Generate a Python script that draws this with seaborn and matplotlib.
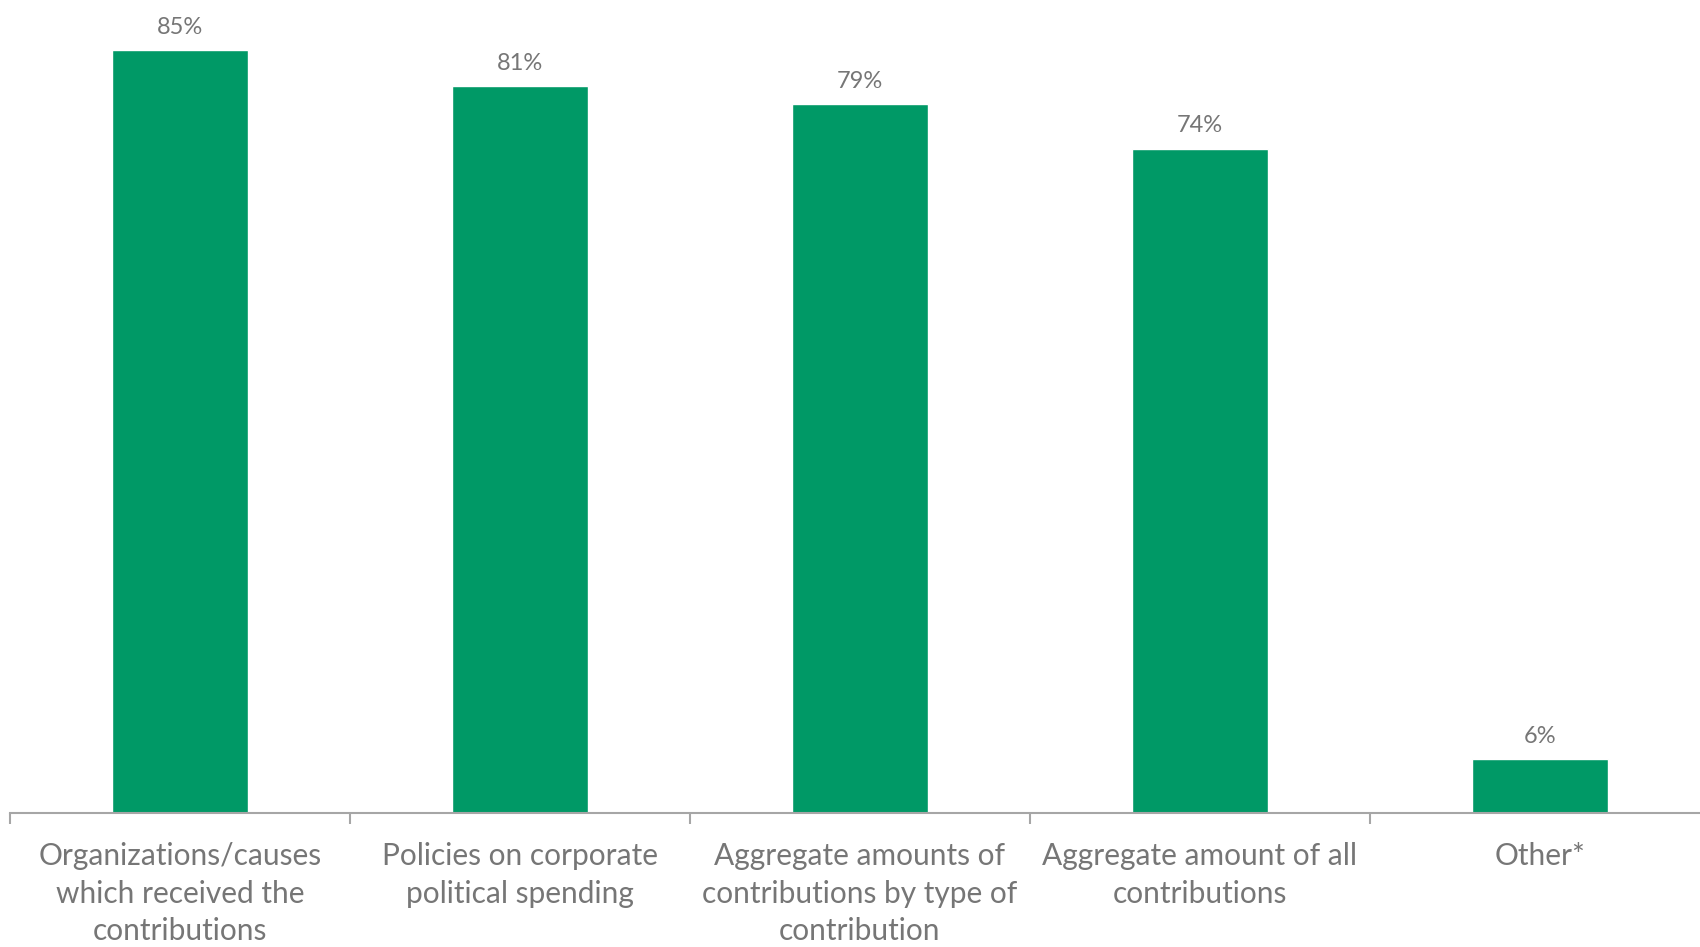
import matplotlib
matplotlib.use("Agg")
import matplotlib.pyplot as plt
import seaborn as sns
import pandas as pd
from matplotlib.ticker import FixedLocator

categories = [
    "Organizations/causes\nwhich received the\ncontributions",
    "Policies on corporate\npolitical spending",
    "Aggregate amounts of\ncontributions by type of\ncontribution",
    "Aggregate amount of all\ncontributions",
    "Other*",
]
values = [85, 81, 79, 74, 6]

sns.set_theme(style="white")
plt.rcParams['font.family'] = ['Lato', 'DejaVu Sans']

TEXT = "#767676"
BAR = "#009966"
AXIS = "#a6a6a6"

df = pd.DataFrame({"cat": categories, "val": values})

fig = plt.figure(figsize=(17, 9.47), dpi=100)
ax = fig.add_axes([10 / 1700, (947 - 813) / 947, 1.0, 813 / 947])
sns.barplot(data=df, x="cat", y="val", color=BAR, width=0.4, ax=ax, saturation=1)

ax.set_xlim(-0.5, 4.5)
ax.set_ylim(0, 90.6)
for c in ax.containers:
    ax.bar_label(c, labels=[f"{v}%" for v in values], padding=9, fontsize=17, color=TEXT)

for s in ["top", "right", "left"]:
    ax.spines[s].set_visible(False)
ax.spines["bottom"].set_color(AXIS)
ax.spines["bottom"].set_linewidth(1.5)
ax.set_yticks([])
ax.set_xlabel("")
ax.set_ylabel("")
ax.tick_params(axis="x", which="major", length=0, pad=21, labelsize=21.5, labelcolor=TEXT)
ax.xaxis.set_minor_locator(FixedLocator([-0.5, 0.5, 1.5, 2.5, 3.5, 4.5]))
ax.tick_params(axis="x", which="minor", length=8, width=1.5, color=AXIS, bottom=True)
for t in ax.get_xticklabels():
    t.set_linespacing(1.42)

fig.savefig("out.png", dpi=100)
